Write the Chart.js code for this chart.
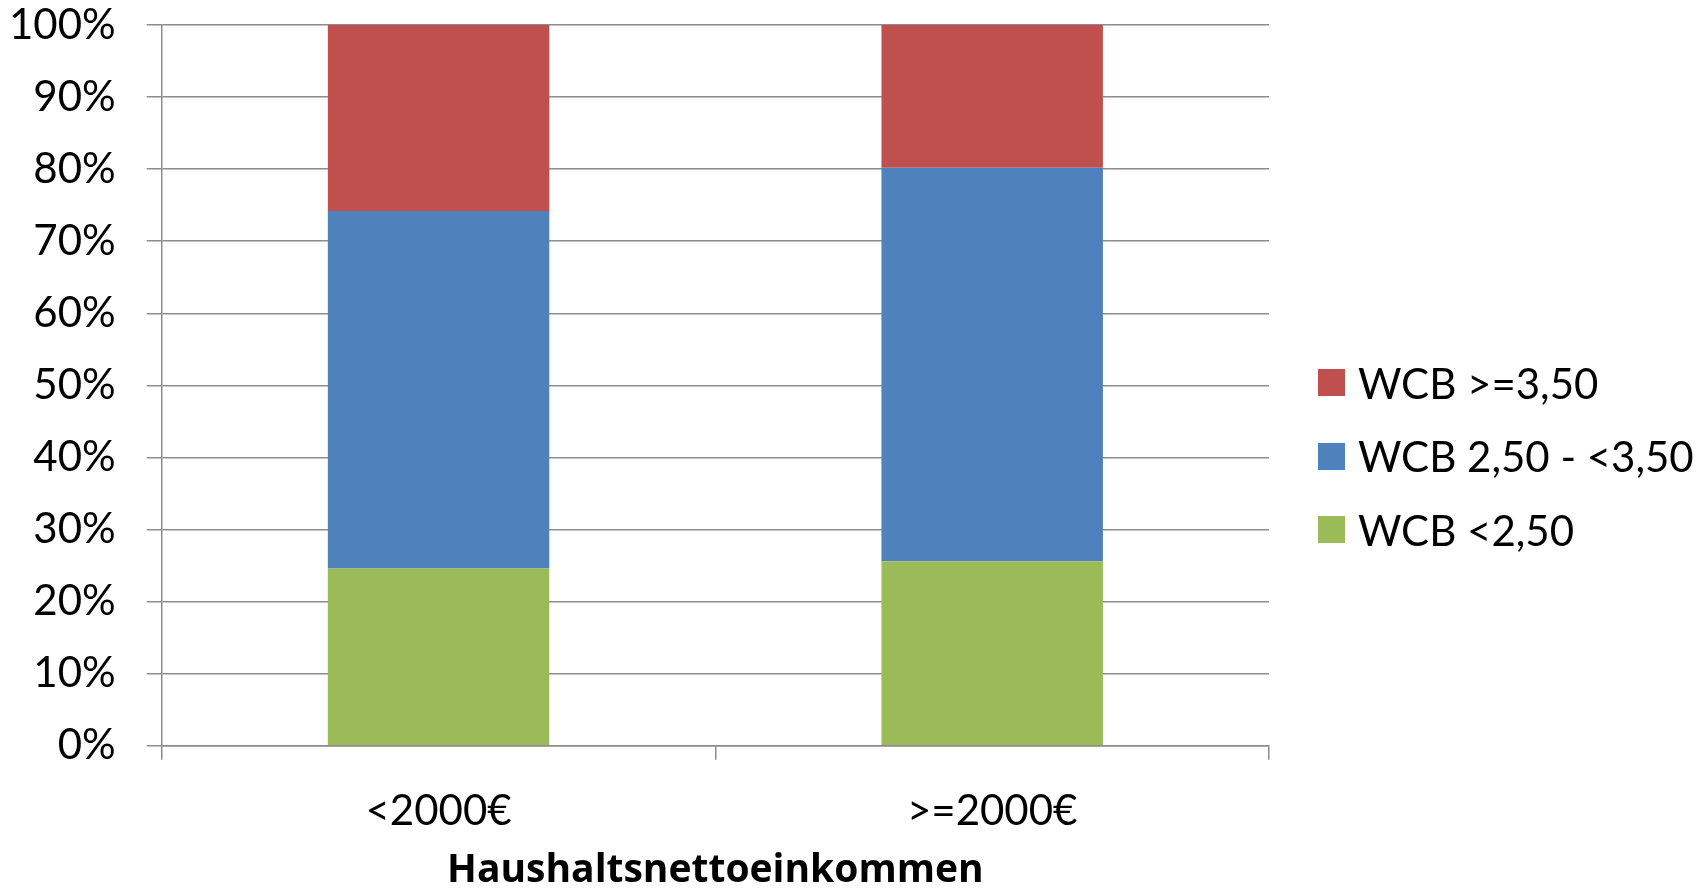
<!DOCTYPE html>
<html>
<head>
<meta charset="utf-8">
<script src="https://cdn.jsdelivr.net/npm/chart.js@4.4.1/dist/chart.umd.min.js"></script>
<style>
  html, body { margin: 0; padding: 0; background: #fff; }
  #wrap { position: relative; width: 1707px; height: 891px; }
  #legend {
    position: absolute; left: 1318px; top: 346px;
    font-family: Lato, "Open Sans", sans-serif; font-size: 42px; color: #000;
  }
  #legend .item { display: flex; align-items: center; height: 73.5px; white-space: nowrap; }
  #legend .swatch { width: 27px; height: 27px; margin-right: 13px; flex: none; }
</style>
</head>
<body>
<div id="wrap">
  <canvas id="wcb-chart"></canvas>
  <div id="legend"></div>
</div>
<script>
const categories = ['<2000€', '>=2000€'];
const lowShare = [24.6, 25.6];   // WCB <2,50
const midShare = [49.6, 54.6];   // WCB 2,50 - <3,50
const highShare = [25.8, 19.8];  // WCB >=3,50
const axisTitle = 'Haushaltsnettoeinkommen';

const FONT = 'Lato, "Open Sans", sans-serif';
const GRID = '#8c8c8c';

const chart = new Chart(document.getElementById('wcb-chart'), {
  type: 'bar',
  data: {
    labels: categories,
    datasets: [
      { label: 'WCB <2,50', data: lowShare, backgroundColor: '#9BBB59' },
      { label: 'WCB 2,50 - <3,50', data: midShare, backgroundColor: '#4F81BD' },
      { label: 'WCB >=3,50', data: highShare, backgroundColor: '#C0504D' },
    ],
  },
  options: {
    responsive: true,
    maintainAspectRatio: false,
    animation: false,
    datasets: {
      bar: { categoryPercentage: 1, barPercentage: 0.4, borderWidth: 0 },
    },
    layout: { padding: { top: 25, right: 438, left: -22, bottom: 0 } },
    scales: {
      x: {
        stacked: true,
        grid: { drawOnChartArea: false, color: GRID, lineWidth: 1.5, tickLength: 14 },
        border: { color: GRID, width: 1.5 },
        ticks: { color: '#000', font: { family: FONT, size: 42 }, padding: 26 },
        title: {
          display: true,
          text: axisTitle,
          color: '#000',
          font: { family: '"Open Sans", sans-serif', size: 39, weight: 'bold' },
          padding: { top: -15, bottom: -3 },
        },
      },
      y: {
        stacked: true,
        min: 0,
        max: 100,
        grid: { color: GRID, lineWidth: 1.5, tickLength: 15 },
        border: { color: GRID, width: 1.5 },
        ticks: {
          stepSize: 10,
          color: '#000',
          font: { family: FONT, size: 42 },
          padding: 31,
          callback: (v) => v + '%',
        },
        // tick padding is horizontal only here; don't let it push the plot down
        afterFit: (scale) => { scale.paddingTop = 0; scale.paddingBottom = 0; },
      },
    },
    plugins: {
      legend: { display: false },
      tooltip: { enabled: false },
    },
  },
});

// legend on the right, top series first
const legendEl = document.getElementById('legend');
chart.data.datasets.slice().reverse().forEach((ds) => {
  const row = document.createElement('div');
  row.className = 'item';
  const sw = document.createElement('span');
  sw.className = 'swatch';
  sw.style.background = ds.backgroundColor;
  row.appendChild(sw);
  row.appendChild(document.createTextNode(ds.label));
  legendEl.appendChild(row);
});
</script>
</body>
</html>
